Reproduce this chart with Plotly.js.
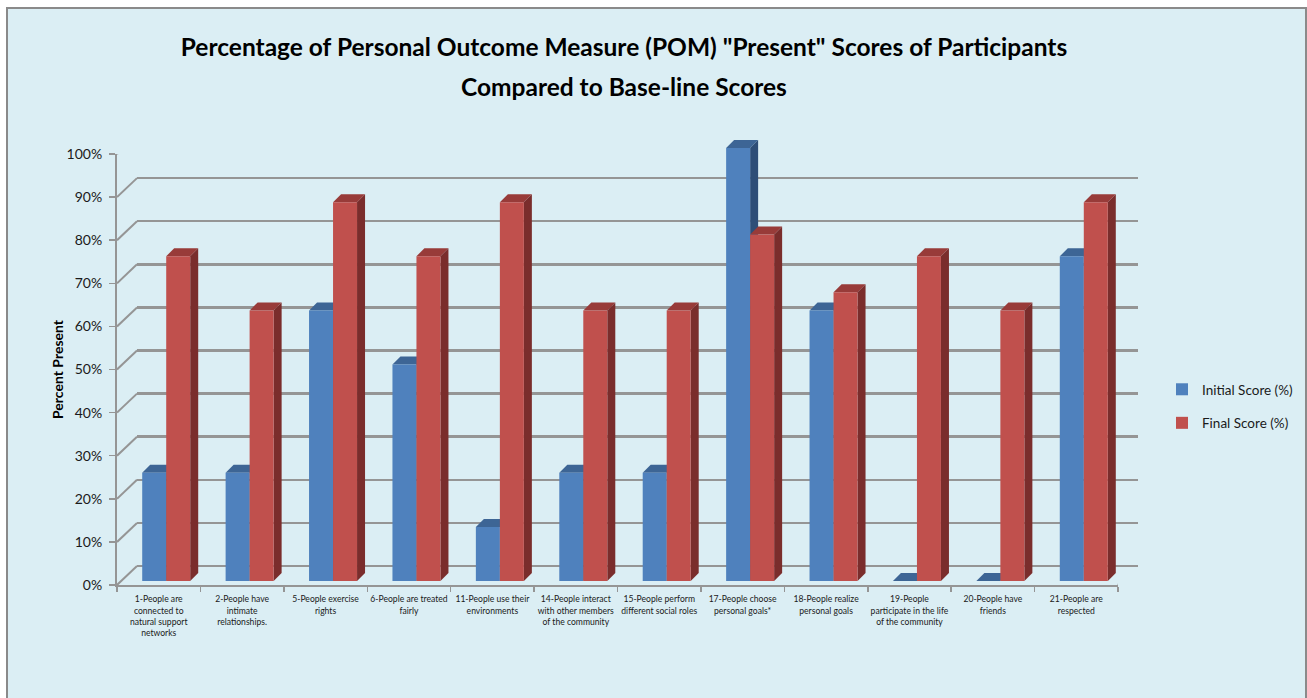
<!DOCTYPE html>
<html>
<head>
<meta charset="utf-8">
<script src="https://cdn.plot.ly/plotly-3.0.1.min.js"></script>
<style>html,body{margin:0;padding:0;background:#fff;}#chart{width:1307px;height:698px;}</style>
</head>
<body>
<div id="chart"></div>
<script>
// ---- data ----
const categories = [
  "1-People are<br>connected to<br>natural support<br>networks",
  "2-People have<br>intimate<br>relationships.",
  "5-People exercise<br>rights",
  "6-People are treated<br>fairly",
  "11-People use their<br>environments",
  "14-People interact<br>with other members<br>of the community",
  "15-People perform<br>different social roles",
  "17-People choose<br>personal goals*",
  "18-People realize<br>personal goals",
  "19-People<br>participate in the life<br>of the community",
  "20-People have<br>friends",
  "21-People are<br>respected"
];
const initialScore = [25, 25, 62.5, 50, 12.5, 25, 25, 100, 62.5, 0, 0, 75];
const finalScore   = [75, 62.5, 87.5, 75, 87.5, 62.5, 62.5, 80, 66.7, 75, 62.5, 87.5];
const yTicks = [0, 10, 20, 30, 40, 50, 60, 70, 80, 90, 100];
const yTickText = yTicks.map(v => v + '%');
const seriesNames = ["Initial Score (%)", "Final Score (%)"];
const titleLines = ['Percentage of Personal Outcome Measure (POM) "Present" Scores of Participants',
                    'Compared to Base-line Scores'];

// ---- geometry / style ----
const W = 1307, H = 698;
const fx = p => p / W, fy = p => 1 - p / H;
const idx = categories.map((_, i) => i);
const catPx = (1118 - 117) / categories.length;
const barPx = 24;
const BW = barPx / catPx;
const depth = 8;
const pxPerUnit = (581 - 148) / 100;     // bar plane scale
const barTopPx = 120;                     // bar plane extends above 100% so top faces are not clipped
const gridCol = '#959595';
const colors = {
  init: {front: '#4f81bd', top: '#3d6595', side: '#2e4e77'},
  fin:  {front: '#c0504d', top: '#983b39', side: '#7a2d2c'}
};
const baseFont = 'Lato, "Open Sans", sans-serif';
const titleFont = {family: baseFont, size: 24.5, weight: 'bold', color: '#000'};

const shapes = [];
shapes.push({type: 'rect', xref: 'paper', yref: 'paper', x0: fx(7), x1: fx(1306), y0: fy(720), y1: fy(8),
  fillcolor: '#dbeef4', line: {color: '#8a8a8a', width: 2}, layer: 'below'});

yTicks.forEach(v => {
  shapes.push({type: 'line', xref: 'x', yref: 'y', xsizemode: 'pixel', ysizemode: 'pixel',
    xanchor: -0.5, yanchor: v, x0: 0, x1: 20, y0: 0, y1: 19,
    line: {color: gridCol, width: 2}, layer: 'above'});
});
shapes.push({type: 'line', xref: 'x', yref: 'y', xsizemode: 'pixel', ysizemode: 'pixel',
  xanchor: categories.length - 0.5, yanchor: 0, x0: 0, x1: 20, y0: 0, y1: 19,
  line: {color: gridCol, width: 2}, layer: 'above'});

function addFaces(vals, rightOffset, col) {
  vals.forEach((v, i) => {
    const h = v * pxPerUnit;
    const xr = i + rightOffset;
    shapes.push({type: 'path', xref: 'x3', yref: 'y3', xsizemode: 'pixel', ysizemode: 'pixel',
      xanchor: xr, yanchor: v,
      path: `M0,0 L${-barPx},0 L${-barPx + depth},${depth} L${depth},${depth} Z`,
      fillcolor: col.top, line: {width: 0}, layer: 'below'});
    shapes.push({type: 'path', xref: 'x3', yref: 'y3', xsizemode: 'pixel', ysizemode: 'pixel',
      xanchor: xr, yanchor: v,
      path: `M0,0 L${depth},${depth} L${depth},${depth - h} L0,${-h} Z`,
      fillcolor: col.side, line: {width: 0}, layer: 'below'});
  });
}
addFaces(initialScore, 0, colors.init);
addFaces(finalScore, BW, colors.fin);

const traces = [
  {type: 'bar', name: seriesNames[0], x: idx, y: initialScore, xaxis: 'x3', yaxis: 'y3',
   width: BW, offset: -BW, marker: {color: colors.init.front, line: {width: 0}},
   legendgroup: 'a', hoverinfo: 'y+name'},
  {type: 'bar', name: seriesNames[1], x: idx, y: finalScore, xaxis: 'x3', yaxis: 'y3',
   width: BW, offset: 0, marker: {color: colors.fin.front, line: {width: 0}},
   legendgroup: 'b', hoverinfo: 'y+name'},
  {type: 'scatter', x: [null], y: [null], xaxis: 'x', yaxis: 'y', showlegend: false, hoverinfo: 'skip'},
  {type: 'scatter', x: [null], y: [null], xaxis: 'x2', yaxis: 'y2', showlegend: false, hoverinfo: 'skip'}
];

const layout = {
  width: W, height: H,
  margin: {l: 0, r: 0, t: 0, b: 0},
  paper_bgcolor: '#ffffff',
  plot_bgcolor: 'rgba(0,0,0,0)',
  font: {family: baseFont, color: '#1a1a1a'},
  barmode: 'overlay',
  title: {
    text: titleLines[0],
    x: fx(624), xanchor: 'center', xref: 'paper',
    y: fy(47), yanchor: 'middle', yref: 'paper',
    font: titleFont
  },
  annotations: [
    {text: titleLines[1], xref: 'paper', yref: 'paper', x: fx(624), y: fy(87),
     xanchor: 'center', yanchor: 'middle', showarrow: false, font: titleFont},
    {text: 'Percent Present', xref: 'paper', yref: 'paper', x: fx(57), y: fy(369),
     xanchor: 'center', yanchor: 'middle', textangle: -90, showarrow: false,
     font: {family: baseFont, size: 14, weight: 'bold', color: '#000'}}
  ],
  showlegend: true,
  legend: {x: fx(1162), y: fy(374), xanchor: 'left', yanchor: 'top',
    bgcolor: 'rgba(0,0,0,0)', font: {family: baseFont, size: 13.5, color: '#1a1a1a'},
    traceorder: 'grouped', tracegroupgap: 13, itemwidth: 30},
  xaxis: {domain: [fx(117), fx(1118)], range: [-0.5, categories.length - 0.5], anchor: 'y',
    tickmode: 'array', tickvals: idx, ticktext: categories, ticks: '', tickangle: 0,
    showline: true, linecolor: gridCol, linewidth: 2, showgrid: false, zeroline: false,
    tickfont: {family: baseFont, size: 8.6, color: '#1a1a1a'}, ticklabelstandoff: 5,
    minor: {tickmode: 'linear', tick0: -0.5, dtick: 1, ticks: 'outside', ticklen: 5, tickcolor: gridCol, tickwidth: 1.5, showgrid: false},
    fixedrange: true},
  yaxis: {domain: [fy(585), fy(154)], range: [0, 100], anchor: 'x',
    tickmode: 'array', tickvals: yTicks, ticktext: yTickText, ticks: 'outside', ticklen: 6,
    tickcolor: gridCol, tickwidth: 1.5,
    showline: true, linecolor: gridCol, linewidth: 2, showgrid: false, zeroline: false,
    tickfont: {family: baseFont, size: 14, color: '#1a1a1a'}, ticklabelstandoff: 4,
    fixedrange: true},
  xaxis2: {domain: [fx(137), fx(1138)], range: [-0.5, categories.length - 0.5], anchor: 'y2',
    showticklabels: false, ticks: '', showgrid: false, showline: false, zeroline: false, fixedrange: true},
  yaxis2: {domain: [fy(566), fy(135)], range: [0, 100], anchor: 'x2',
    tickmode: 'array', tickvals: yTicks, showticklabels: false, ticks: '',
    showgrid: true, gridcolor: gridCol, gridwidth: 2.5,
    zeroline: true, zerolinecolor: gridCol, zerolinewidth: 2.5, showline: false, fixedrange: true},
  xaxis3: {domain: [fx(124.5), fx(1125.5)], range: [-0.5, categories.length - 0.5], anchor: 'y3',
    visible: false, fixedrange: true},
  yaxis3: {domain: [fy(581), fy(barTopPx)], range: [0, (581 - barTopPx) / pxPerUnit], anchor: 'x3',
    visible: false, fixedrange: true},
  shapes: shapes
};

Plotly.newPlot('chart', traces, layout, {displayModeBar: false, staticPlot: true});
</script>
</body>
</html>
